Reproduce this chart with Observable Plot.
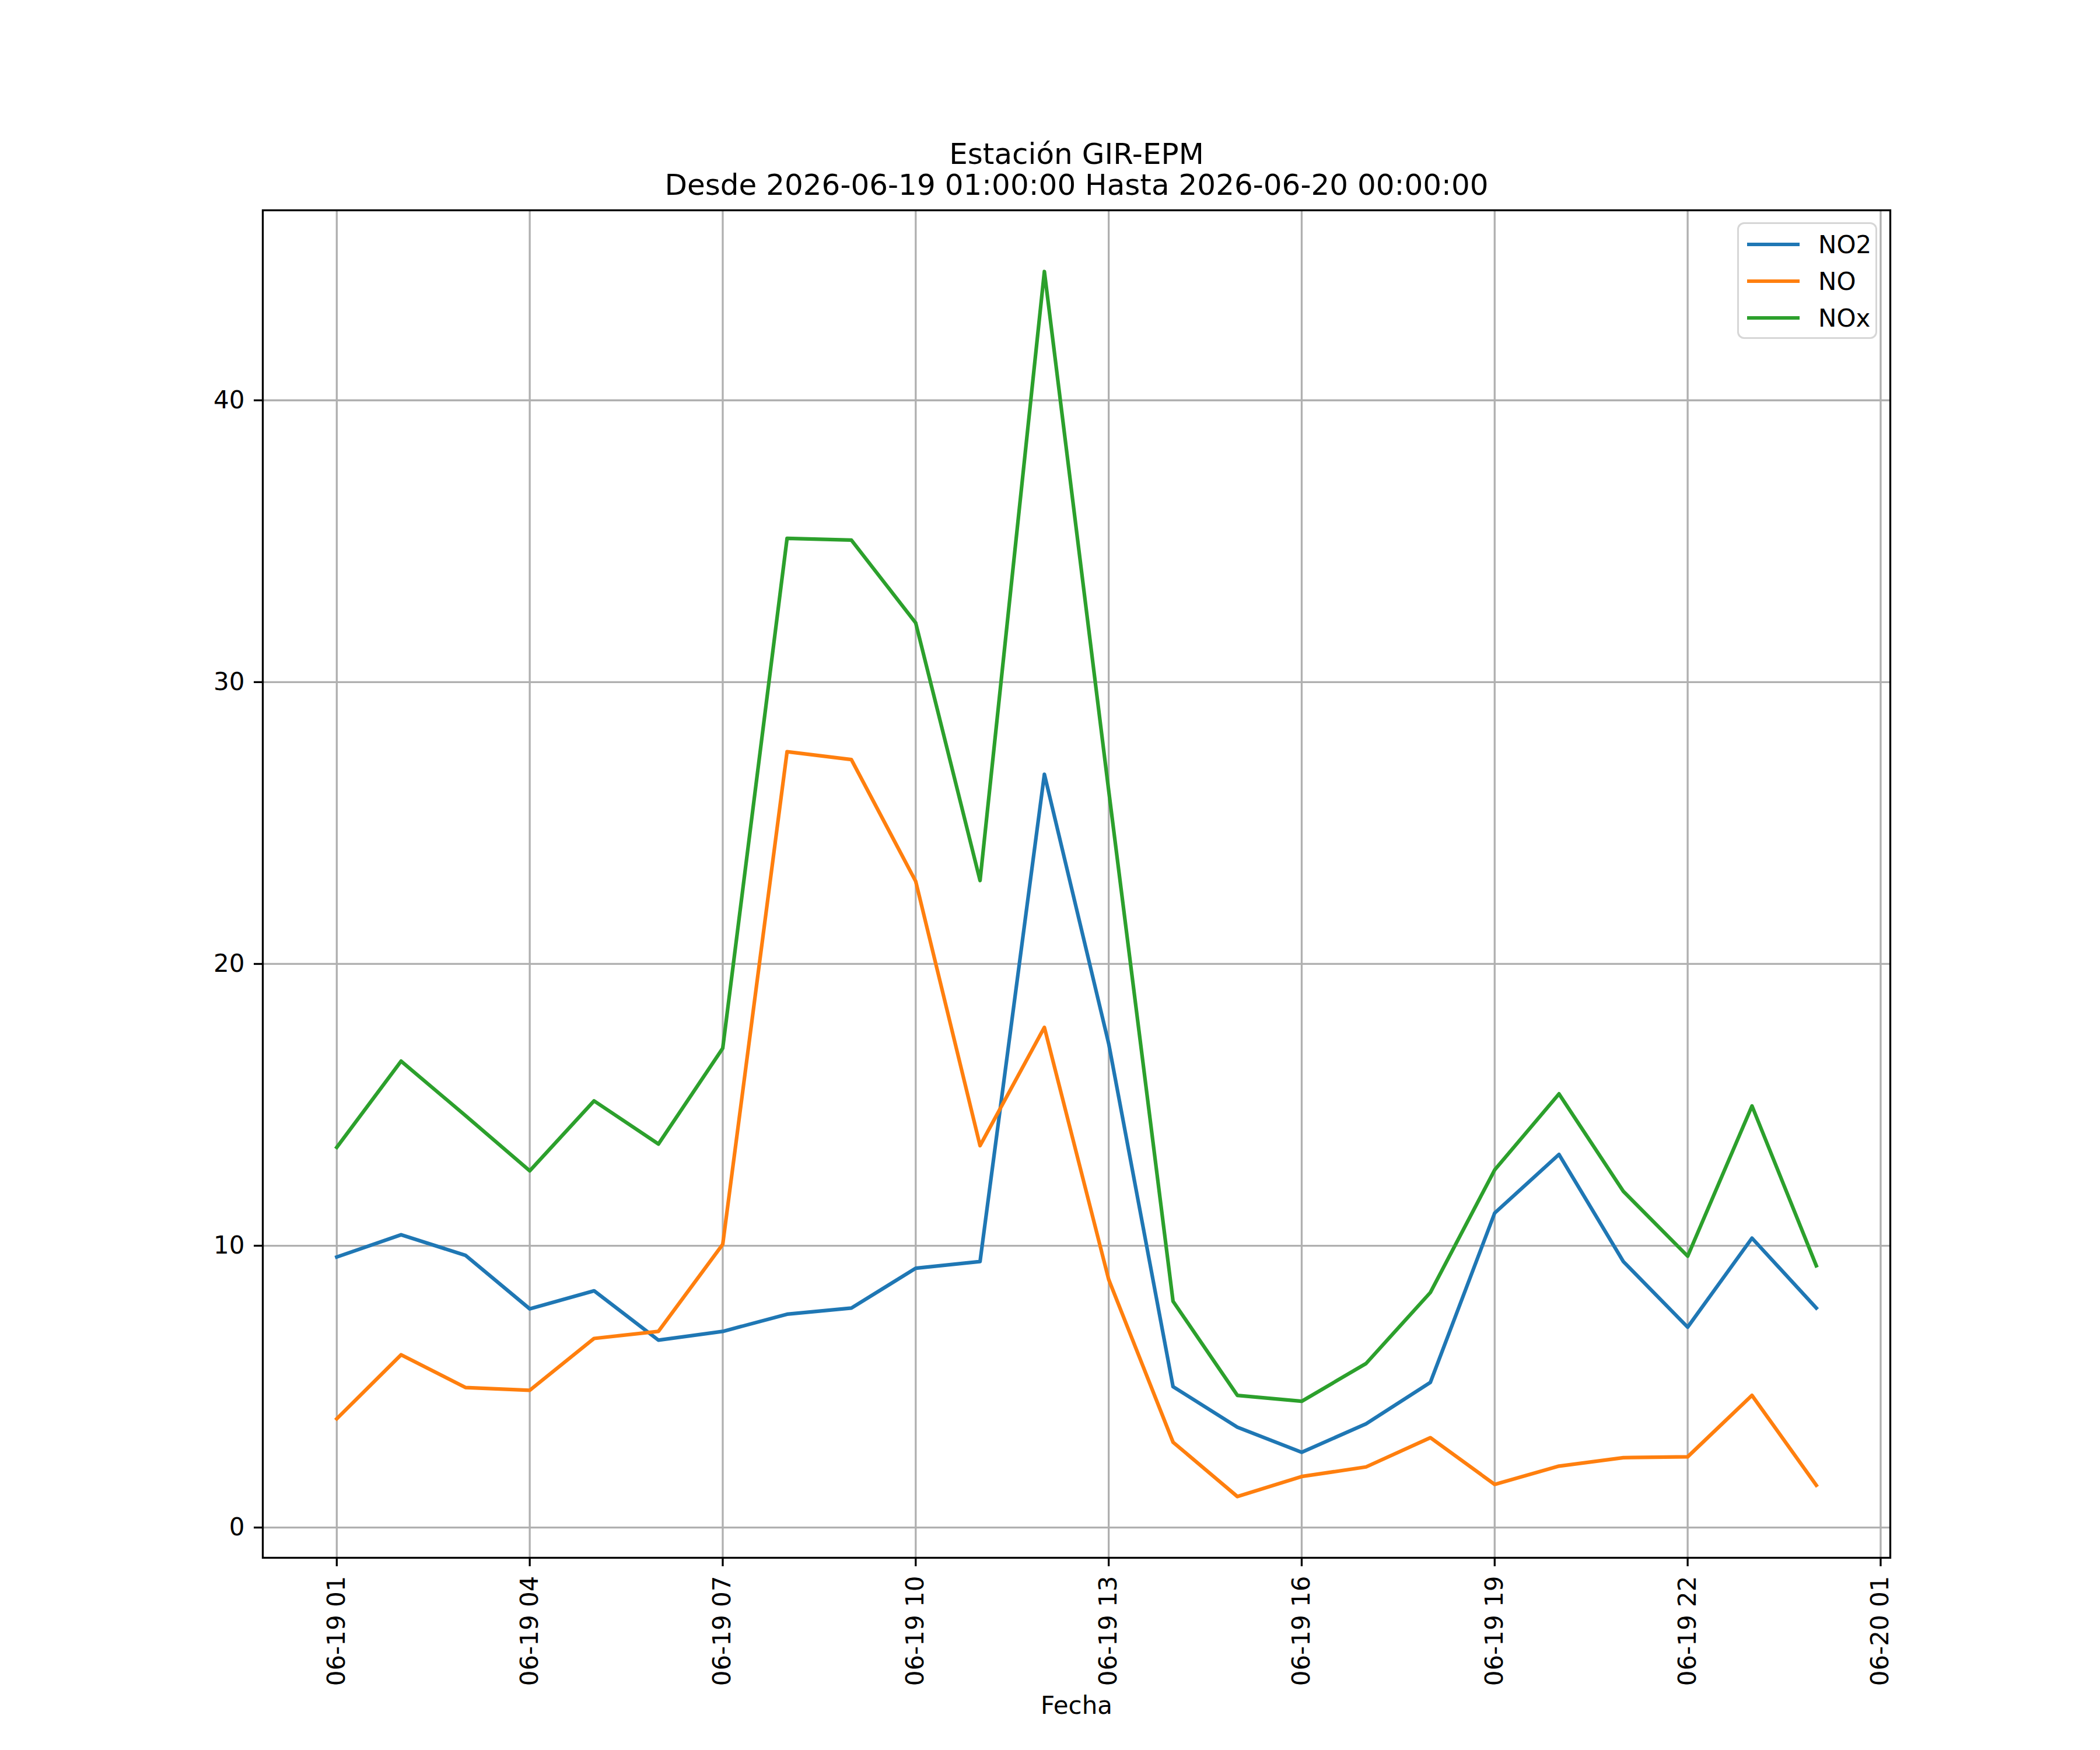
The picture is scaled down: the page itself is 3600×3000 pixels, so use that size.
<!DOCTYPE html>
<html>
<head>
<meta charset="utf-8">
<script src="https://cdn.jsdelivr.net/npm/d3@7"></script>
<script src="https://cdn.jsdelivr.net/npm/@observablehq/plot@0.6"></script>
<style>
  html, body { margin: 0; padding: 0; background: #ffffff; }
  #wrap { position: relative; width: 3600px; height: 3000px; font-family: "DejaVu Sans", sans-serif; }
  #legend {
    position: absolute; left: 2978px; top: 381px; width: 234px; height: 194px;
    border: 3.3px solid rgba(204,204,204,0.8); border-radius: 12px;
    background: rgba(255,255,255,0.8); box-sizing: content-box;
  }
  .item { position: absolute; left: 14px; height: 60px; display: flex; align-items: center; font-size: 42px; color: #000; }
  .sw { width: 90px; height: 6.25px; margin-right: 32px; }
</style>
</head>
<body>
<div id="wrap"></div>
<script>
const hours = ["2026-06-19T01:00","2026-06-19T02:00","2026-06-19T03:00","2026-06-19T04:00","2026-06-19T05:00","2026-06-19T06:00",
               "2026-06-19T07:00","2026-06-19T08:00","2026-06-19T09:00","2026-06-19T10:00","2026-06-19T11:00","2026-06-19T12:00",
               "2026-06-19T13:00","2026-06-19T14:00","2026-06-19T15:00","2026-06-19T16:00","2026-06-19T17:00","2026-06-19T18:00",
               "2026-06-19T19:00","2026-06-19T20:00","2026-06-19T21:00","2026-06-19T22:00","2026-06-19T23:00","2026-06-20T00:00"];
const no2 = [9.60, 10.39, 9.66, 7.76, 8.40, 6.65, 6.96, 7.57, 7.79, 9.20, 9.44, 26.73,
             17.17, 5.00, 3.56, 2.67, 3.68, 5.15, 11.16, 13.24, 9.44, 7.11, 10.27, 7.79];
const no  = [3.86, 6.13, 4.97, 4.87, 6.71, 6.96, 10.05, 27.53, 27.25, 22.93, 13.55, 17.75,
             8.80, 3.03, 1.10, 1.81, 2.15, 3.19, 1.53, 2.18, 2.48, 2.51, 4.69, 1.50];
const nox = [13.49, 16.55, 14.62, 12.66, 15.14, 13.61, 17.01, 35.10, 35.04, 32.10, 22.96, 44.57,
             26.15, 8.03, 4.69, 4.48, 5.82, 8.34, 12.69, 15.39, 11.93, 9.63, 14.96, 9.29];
const seriesNames = ["NO2", "NO", "NOx"];
const seriesColors = ["#1f77b4", "#ff7f0e", "#2ca02c"];
const yTicks = [0, 10, 20, 30, 40];
const xTickLabels = ["2026-06-19T01:00","2026-06-19T04:00","2026-06-19T07:00","2026-06-19T10:00","2026-06-19T13:00",
                     "2026-06-19T16:00","2026-06-19T19:00","2026-06-19T22:00","2026-06-20T01:00"];
const titleLines = ["Estación GIR-EPM", "Desde 2026-06-19 01:00:00 Hasta 2026-06-20 00:00:00"];
const xLabel = "Fecha";

const toDate = s => new Date(s + ":00Z");
const seriesValues = [no2, no, nox];
const rows = [];
seriesNames.forEach((name, i) => {
  hours.forEach((h, j) => rows.push({t: toDate(h), v: seriesValues[i][j], s: name}));
});
const xTicks = xTickLabels.map(toDate);

// matplotlib-style 5% autoscale margins
const t0 = toDate(hours[0]).getTime(), t1 = toDate(hours[hours.length - 1]).getTime();
const allV = [...no2, ...no, ...nox];
const vmin = d3.min(allV), vmax = d3.max(allV);
const xPad = (t1 - t0) * 0.05, yPad = (vmax - vmin) * 0.05;

const chart = Plot.plot({
  width: 3600,
  height: 3000,
  marginLeft: 450,
  marginRight: 360,
  marginTop: 360,
  marginBottom: 330,
  style: {fontFamily: "DejaVu Sans, sans-serif", fontSize: "42px", background: "#ffffff", color: "#000"},
  x: {type: "utc", domain: [new Date(t0 - xPad), new Date(t1 + xPad)]},
  y: {domain: [vmin - yPad, vmax + yPad]},
  color: {domain: seriesNames, range: seriesColors},
  marks: [
    Plot.gridX(xTicks, {stroke: "#b0b0b0", strokeOpacity: 1, strokeWidth: 3.3}),
    Plot.gridY(yTicks, {stroke: "#b0b0b0", strokeOpacity: 1, strokeWidth: 3.3}),
    Plot.lineY(rows, {x: "t", y: "v", z: "s", stroke: "s", strokeWidth: 6.25, strokeLinejoin: "round", strokeLinecap: "square"}),
    Plot.frame({stroke: "#000", strokeWidth: 3.3}),
    Plot.axisX(xTicks, {tickFormat: d3.utcFormat("%m-%d %H"), tickRotate: -90, tickSize: 15, tickPadding: 16,
                        strokeWidth: 3.3, fontSize: 42, label: null}),
    Plot.axisY(yTicks, {tickSize: 15, tickPadding: 16, strokeWidth: 3.3, fontSize: 42, label: null}),
    Plot.text([titleLines[0]], {text: d => d, frameAnchor: "top", dy: -96, fontSize: 50, lineAnchor: "middle"}),
    Plot.text([titleLines[1]], {text: d => d, frameAnchor: "top", dy: -43, fontSize: 50, lineAnchor: "middle"}),
    Plot.text([xLabel], {text: d => d, frameAnchor: "bottom", dy: 254, fontSize: 42, lineAnchor: "middle"})
  ]
});

const wrap = document.getElementById("wrap");
wrap.appendChild(chart);

const legend = document.createElement("div");
legend.id = "legend";
seriesNames.forEach((name, i) => {
  const item = document.createElement("div");
  item.className = "item";
  item.style.top = (5 + i * 63) + "px";
  const sw = document.createElement("div");
  sw.className = "sw";
  sw.style.background = seriesColors[i];
  const lab = document.createElement("span");
  lab.textContent = name;
  item.appendChild(sw);
  item.appendChild(lab);
  legend.appendChild(item);
});
wrap.appendChild(legend);
</script>
</body>
</html>
